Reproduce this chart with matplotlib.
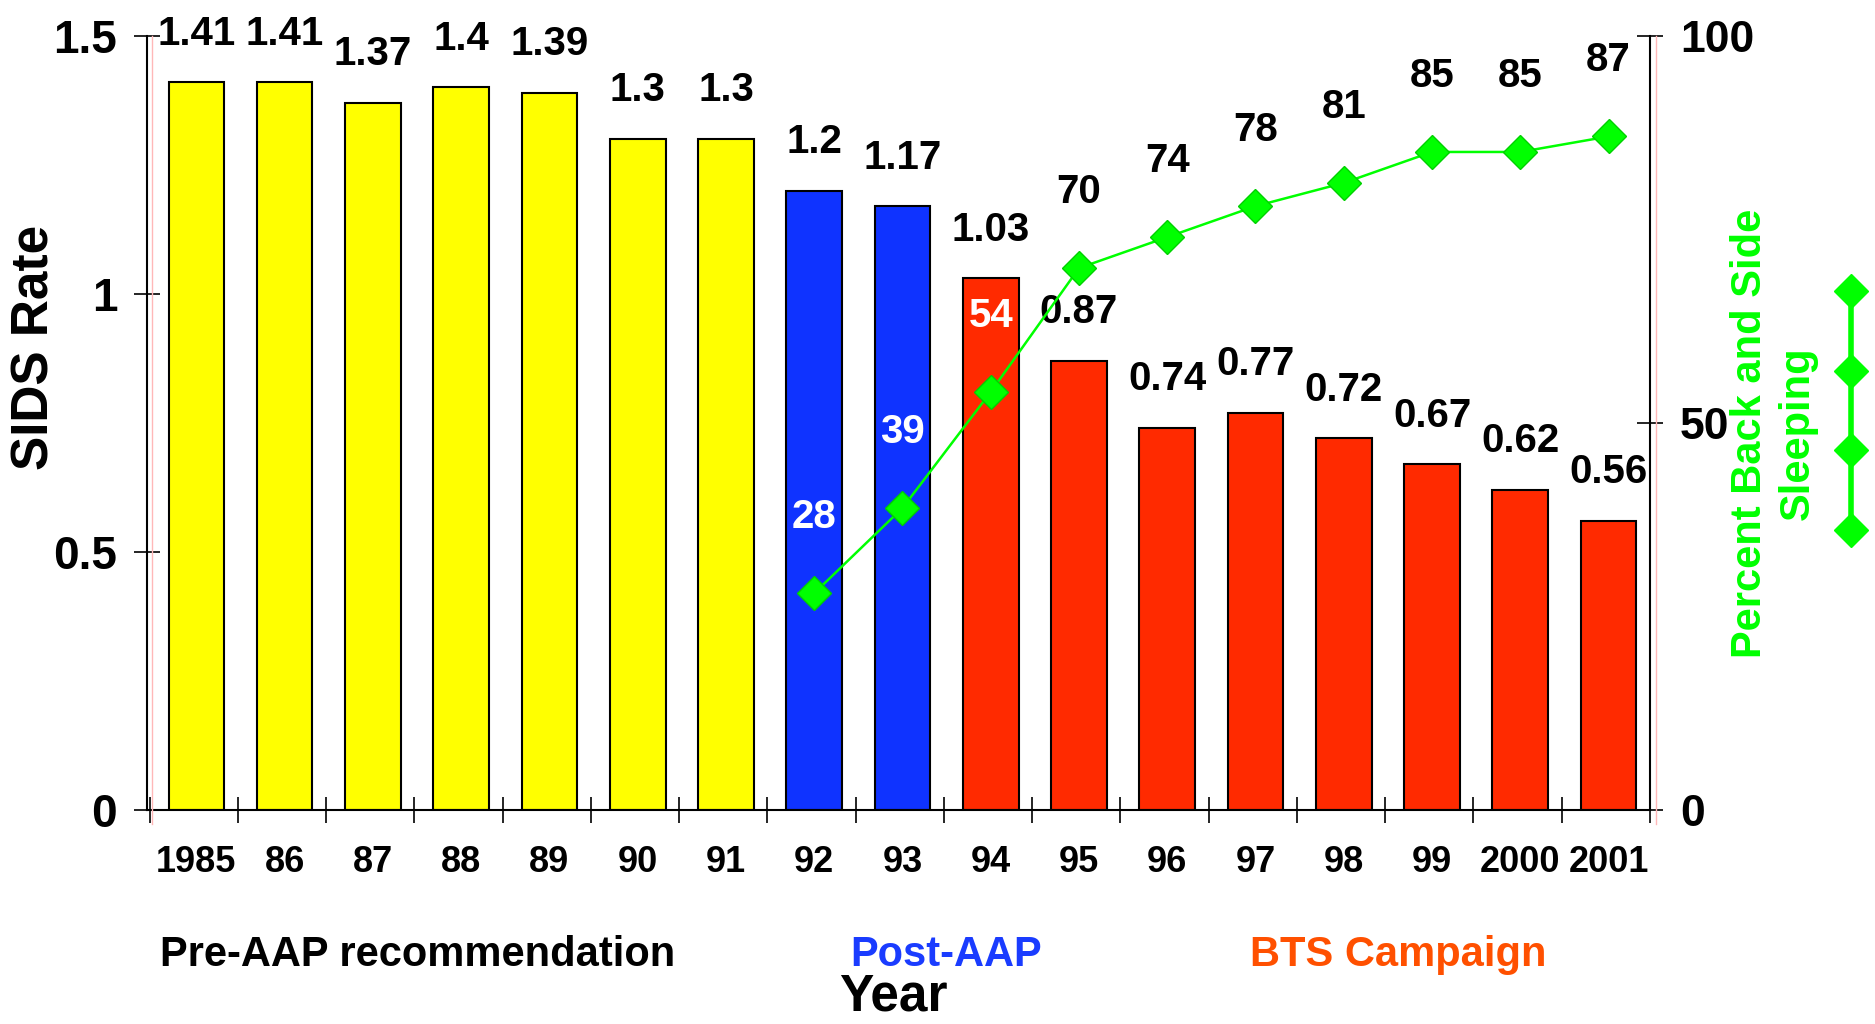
import matplotlib
matplotlib.use('Agg')
import matplotlib.pyplot as plt
from matplotlib.lines import Line2D
import numpy as np

plt.rcParams['font.family'] = ['Liberation Sans', 'DejaVu Sans']
plt.rcParams['font.weight'] = 'bold'

# donnees
years = ['1985', '86', '87', '88', '89', '90', '91', '92', '93', '94',
         '95', '96', '97', '98', '99', '2000', '2001']
sids_rate = [1.41, 1.41, 1.37, 1.40, 1.39, 1.30, 1.30, 1.20, 1.17, 1.03,
             0.87, 0.74, 0.77, 0.72, 0.67, 0.62, 0.56]
rate_labels = ['1.41', '1.41', '1.37', '1.4', '1.39', '1.3', '1.3', '1.2', '1.17', '1.03',
               '0.87', '0.74', '0.77', '0.72', '0.67', '0.62', '0.56']
periods = ['pre'] * 7 + ['post'] * 2 + ['bts'] * 8
sleep_years = ['92', '93', '94', '95', '96', '97', '98', '99', '2000', '2001']
sleep_pct = [28, 39, 54, 70, 74, 78, 81, 85, 85, 87]

period_color = {'pre': '#FFFF00', 'post': '#0F33FF', 'bts': '#FF2A00'}
green = '#00FF00'

fig = plt.figure(figsize=(18.75, 10.24), dpi=100)
ax1 = fig.add_axes([0.0784, 0.209, 0.8016, 0.756])

x = np.arange(len(years))
ax1.bar(x, sids_rate, width=0.63, color=[period_color[p] for p in periods],
        edgecolor='black', linewidth=1.5, zorder=2)
for xi, v, lab in zip(x, sids_rate, rate_labels):
    ax1.annotate(lab, (xi, v), xytext=(0, 35), textcoords='offset points',
                 ha='center', va='center', fontsize=29, fontweight='bold')

ax1.set_xlim(-0.56, 16.44)
ax1.set_ylim(0, 1.5)
ax1.set_yticks([0, 0.5, 1, 1.5])
ax1.set_yticklabels(['0', '0.5', '1', '1.5'])
ax1.set_xticks(x)
ax1.set_xticklabels(years)
ax1.set_xticks(np.arange(-1, 17) + 0.47, minor=True)
ax1.tick_params(axis='x', which='major', length=0, pad=25, labelsize=26)
ax1.tick_params(axis='x', which='minor', direction='inout', length=19, width=1.2)
ax1.tick_params(axis='y', direction='inout', length=19, width=1.2, labelsize=33, pad=12)
ax1.spines['top'].set_visible(False)
ax1.spines['right'].set_visible(False)
ax1.spines['left'].set_linewidth(1.5)
ax1.spines['bottom'].set_linewidth(1.5)

fig.text(0.0187, 0.661, 'SIDS Rate', rotation=90, ha='center', va='center',
         fontsize=37, fontweight='bold')

# axe de droite : pourcentage dos et cote
ax2 = ax1.twinx()
sx = [years.index(y) for y in sleep_years]
ax2.plot(sx, sleep_pct, color=green, linewidth=1.8, marker='D', markersize=17,
         markeredgecolor='#00D000', markeredgewidth=1, zorder=3)
for xi, v in zip(sx, sleep_pct):
    col = 'white' if v < 60 else 'black'
    ax2.annotate(str(v), (xi, v), xytext=(0, 55), textcoords='offset points',
                 ha='center', va='center', fontsize=29, fontweight='bold', color=col)
ax2.set_ylim(0, 100)
ax2.set_yticks([0, 50, 100])
ax2.tick_params(axis='y', direction='inout', length=19, width=1.2, labelsize=32, pad=12)
ax2.spines['top'].set_visible(False)
ax2.spines['left'].set_visible(False)
ax2.spines['bottom'].set_visible(False)
ax2.spines['right'].set_linewidth(1.5)

# traits roses a cote des axes
fig.add_artist(Line2D([0.0811, 0.0811], [0.195, 0.965], color='#FFB8B8', linewidth=1))
fig.add_artist(Line2D([0.8832, 0.8832], [0.195, 0.965], color='#FFB8B8', linewidth=1))

fig.text(0.946, 0.577, 'Percent Back and Side\nSleeping', rotation=90, ha='center', va='center',
         multialignment='center', fontsize=30, fontweight='bold', color=green, linespacing=1.25)

# symbole de legende
key_y = [0.716, 0.638, 0.561, 0.482]
fig.add_artist(Line2D([0.987] * 4, key_y, color=green, linewidth=4, marker='D', markersize=17,
                      transform=fig.transFigure))

# periodes
fig.text(0.223, 0.057, 'Pre-AAP recommendation', ha='center', va='baseline', fontsize=30,
         fontweight='bold', color='black')
fig.text(0.5045, 0.057, 'Post-AAP', ha='center', va='baseline', fontsize=30,
         fontweight='bold', color='#1A3CFF')
fig.text(0.7456, 0.057, 'BTS Campaign', ha='center', va='baseline', fontsize=30,
         fontweight='bold', color='#FF5000')
fig.text(0.4763, 0.002, 'Year', ha='center', va='bottom', fontsize=37, fontweight='bold')

plt.savefig('out.png', dpi=100)
